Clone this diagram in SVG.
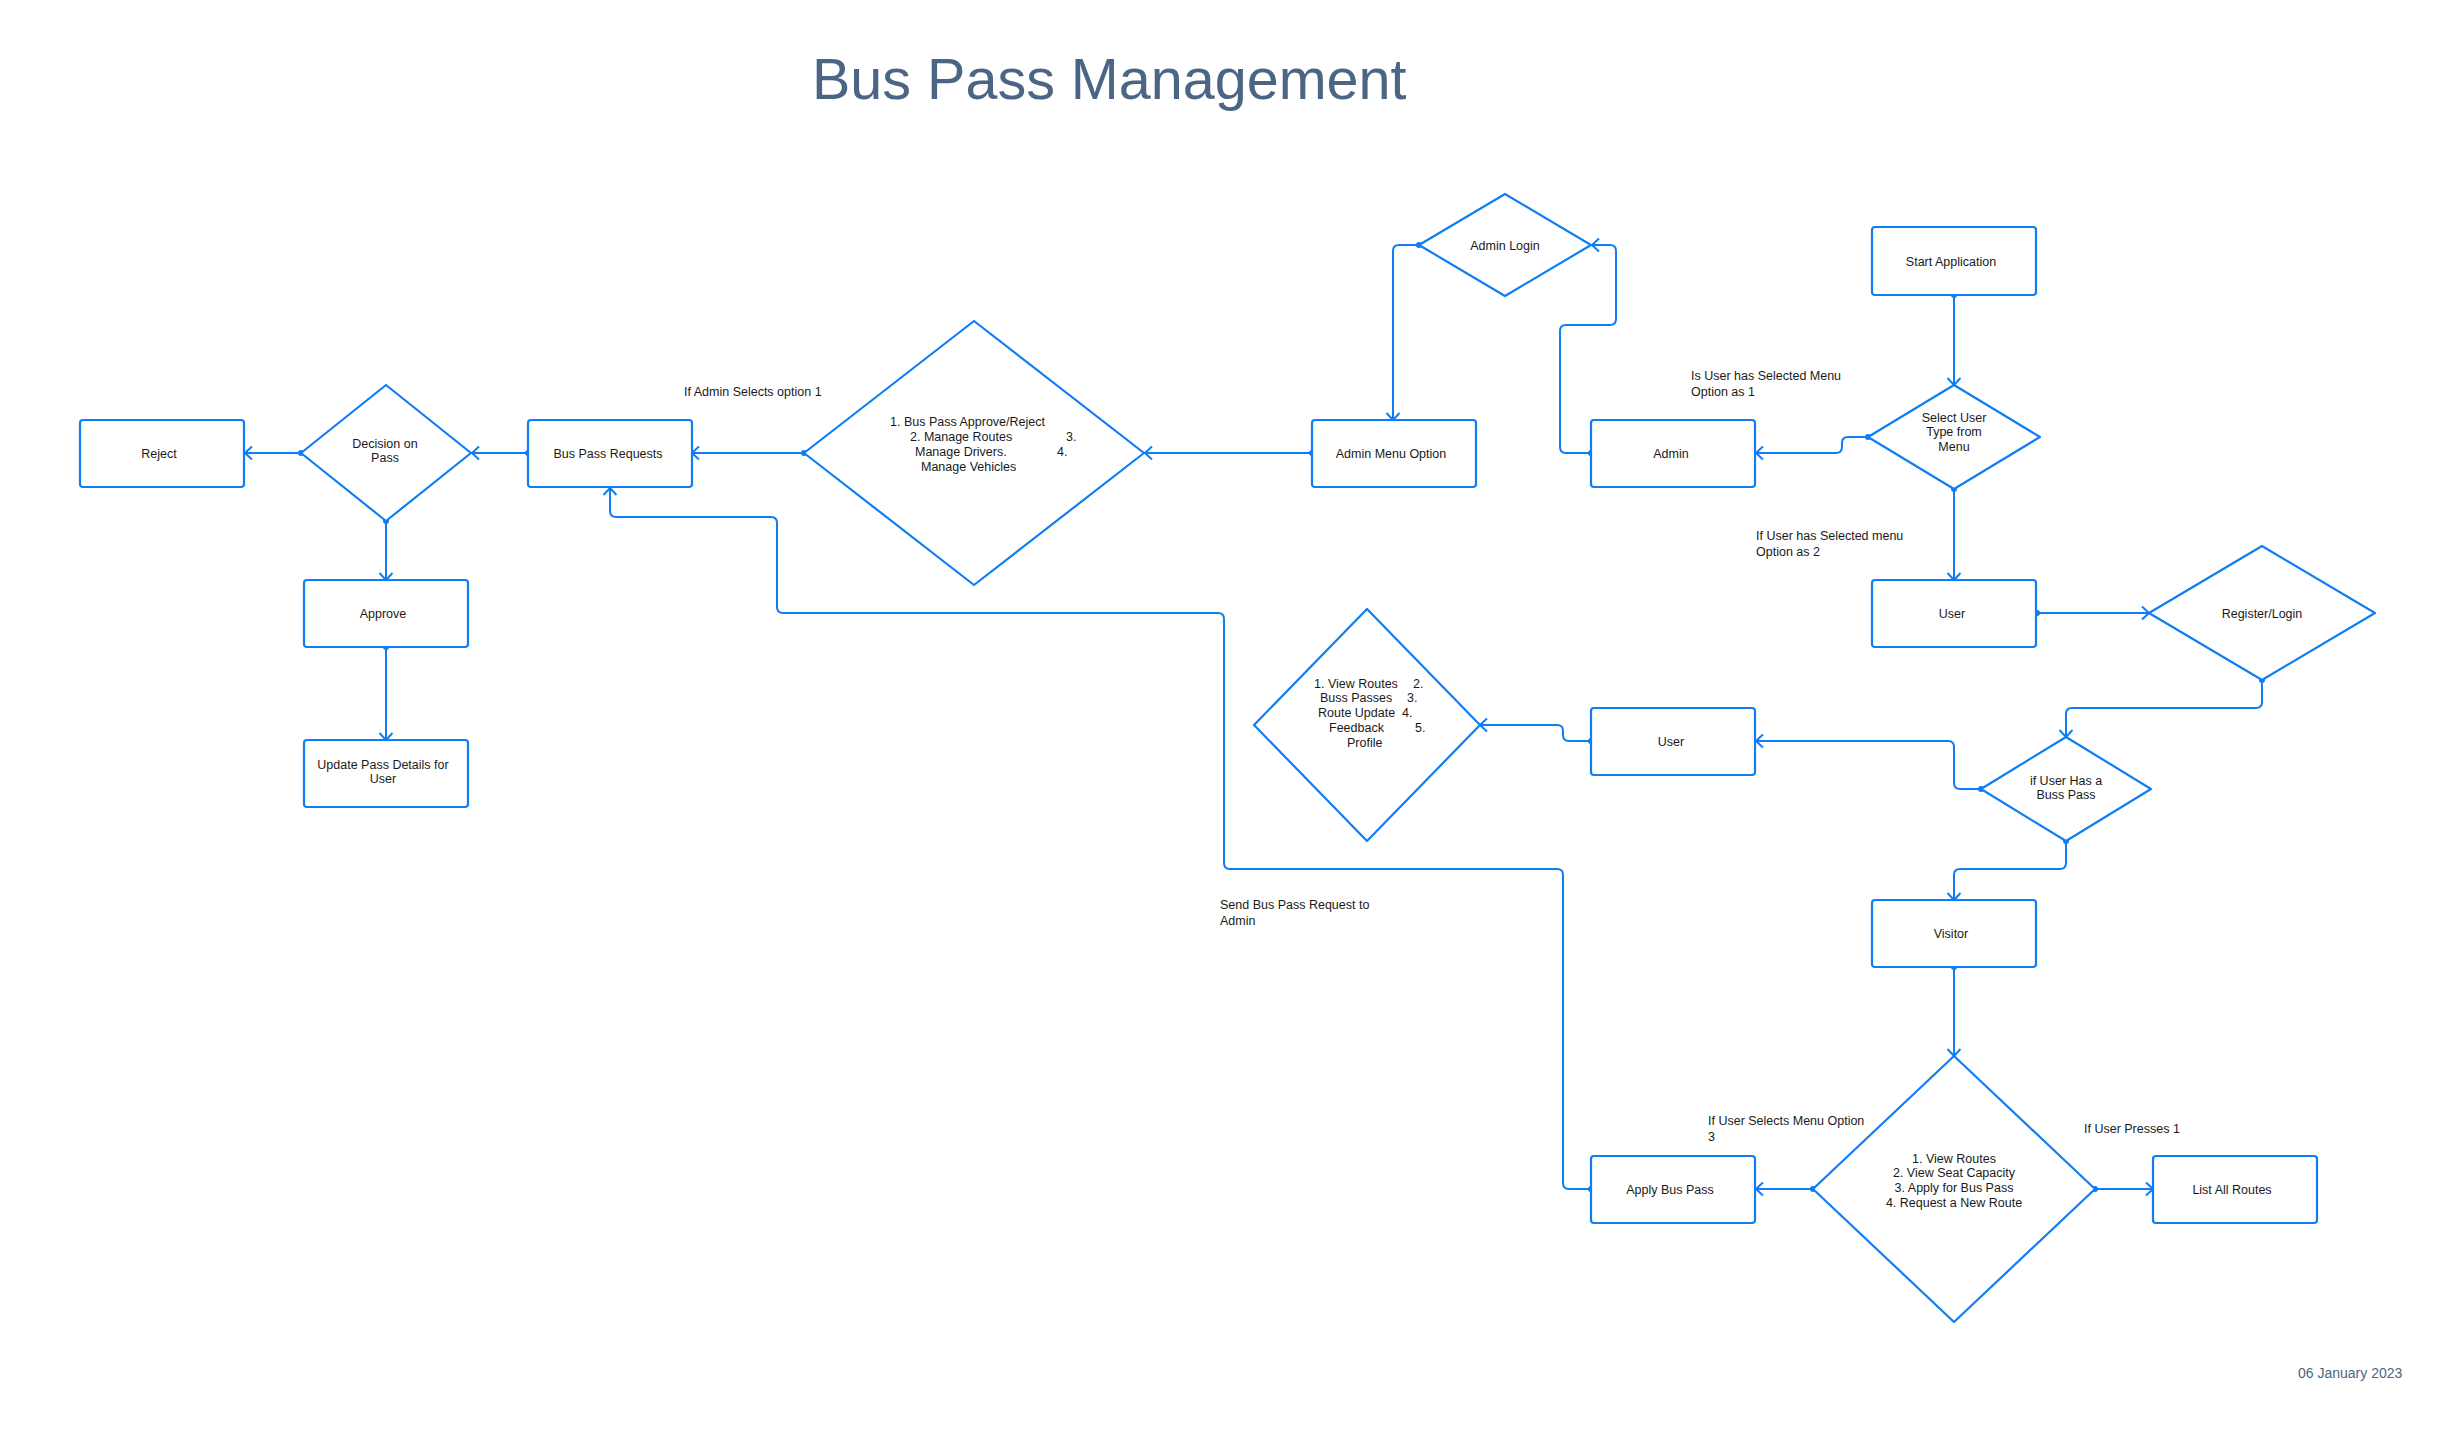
<svg xmlns="http://www.w3.org/2000/svg" width="2452" height="1449" viewBox="0 0 2452 1449">
<style>
.shape{fill:#ffffff;stroke:#0f7df5;stroke-width:2.2;stroke-linejoin:round}
.conn{fill:none;stroke:#0f7df5;stroke-width:2;marker-start:url(#dot);marker-end:url(#arr)}
text{font-family:"Liberation Sans",Arial,sans-serif;fill:#1a1a1a;font-size:12.5px}
.c{text-anchor:middle}
.title{font-size:57.5px;fill:#4c6584}
.date{font-size:14px;fill:#4c6584}
</style>
<defs>
<marker id="arr" markerUnits="userSpaceOnUse" markerWidth="20" markerHeight="20" viewBox="-10 -10 20 20" refX="0" refY="0" orient="auto">
<path d="M-7,-6.5 L0,0 L-7,6.5" fill="none" stroke="#0f7df5" stroke-width="2"/>
</marker>
<marker id="dot" markerUnits="userSpaceOnUse" markerWidth="10" markerHeight="10" viewBox="-5 -5 10 10" refX="0" refY="0" orient="auto">
<circle cx="0" cy="0" r="3" fill="#0f7df5"/>
</marker>
</defs>
<rect width="2452" height="1449" fill="#ffffff"/>
<text class="title" x="812" y="99">Bus Pass Management</text>
<text class="date" x="2298" y="1378">06 January 2023</text>

<g id="connectors">
<path class="conn" d="M1954,295 V385"/>
<path class="conn" d="M1868,437 H1848 Q1842,437 1842,443 V447 Q1842,453 1836,453 H1756"/>
<path class="conn" d="M1591,453 H1566 Q1560,453 1560,447 V331 Q1560,325 1566,325 H1610 Q1616,325 1616,319 V251 Q1616,245 1610,245 H1592"/>
<path class="conn" d="M1419,245 H1399 Q1393,245 1393,251 V420"/>
<path class="conn" d="M1312,453 H1145"/>
<path class="conn" d="M804,453 H692"/>
<path class="conn" d="M528,453 H472"/>
<path class="conn" d="M301,453 H245"/>
<path class="conn" d="M386,521 V580"/>
<path class="conn" d="M386,647 V740"/>
<path class="conn" d="M1591,1189 H1569 Q1563,1189 1563,1183 V875 Q1563,869 1557,869 H1230 Q1224,869 1224,863 V619 Q1224,613 1218,613 H783 Q777,613 777,607 V523 Q777,517 771,517 H616 Q610,517 610,511 V488"/>
<path class="conn" d="M1954,489 V580"/>
<path class="conn" d="M2037,613 H2149"/>
<path class="conn" d="M2262,680 V702 Q2262,708 2256,708 H2072 Q2066,708 2066,714 V737"/>
<path class="conn" d="M1981,789 H1960 Q1954,789 1954,783 V747 Q1954,741 1948,741 H1756"/>
<path class="conn" d="M1591,741 H1569 Q1563,741 1563,735 V731 Q1563,725 1557,725 H1480"/>
<path class="conn" d="M2066,841 V863 Q2066,869 2060,869 H1960 Q1954,869 1954,875 V900"/>
<path class="conn" d="M1954,967 V1056"/>
<path class="conn" d="M1813,1189 H1756"/>
<path class="conn" d="M2095,1189 H2153"/>
</g>

<g id="labels">
<text x="684" y="396">If Admin Selects option 1</text>
<text x="1691" y="380">Is User has Selected Menu</text>
<text x="1691" y="396">Option as 1</text>
<text x="1756" y="540">If User has Selected menu</text>
<text x="1756" y="556">Option as 2</text>
<text x="1220" y="908.5">Send Bus Pass Request to</text>
<text x="1220" y="924.5">Admin</text>
<text x="1708" y="1124.5">If User Selects Menu Option</text>
<text x="1708" y="1140.5">3</text>
<text x="2084" y="1132.5">If User Presses 1</text>
</g>

<g id="start-application">
<rect class="shape" x="1872" y="227" width="164" height="68" rx="3"/>
<text class="c" x="1951" y="265.5">Start Application</text>
</g>
<g id="select-user-type">
<polygon class="shape" points="1954,385 2040,437 1954,489 1868,437"/>
<text class="c" x="1954" y="421.5">Select User</text>
<text class="c" x="1954" y="435.5">Type from</text>
<text class="c" x="1954" y="450.5">Menu</text>
</g>
<g id="admin">
<rect class="shape" x="1591" y="420" width="164" height="67" rx="3"/>
<text class="c" x="1671" y="457.5">Admin</text>
</g>
<g id="admin-login">
<polygon class="shape" points="1505,194 1591,245 1505,296 1419,245"/>
<text class="c" x="1505" y="249.5">Admin Login</text>
</g>
<g id="admin-menu-option">
<rect class="shape" x="1312" y="420" width="164" height="67" rx="3"/>
<text class="c" x="1391" y="457.5">Admin Menu Option</text>
</g>
<g id="admin-menu">
<polygon class="shape" points="974,321 1144,453 974,585 804,453"/>
<text x="890" y="426">1. Bus Pass Approve/Reject</text>
<text x="910" y="440.5">2. Manage Routes</text>
<text x="1066" y="440.5">3.</text>
<text x="915" y="455.5">Manage Drivers.</text>
<text x="1057" y="455.5">4.</text>
<text x="921" y="470.5">Manage Vehicles</text>
</g>
<g id="bus-pass-requests">
<rect class="shape" x="528" y="420" width="164" height="67" rx="3"/>
<text class="c" x="608" y="457.5">Bus Pass Requests</text>
</g>
<g id="decision-on-pass">
<polygon class="shape" points="386,385 471,453 386,521 301,453"/>
<text class="c" x="385" y="448">Decision on</text>
<text class="c" x="385" y="462">Pass</text>
</g>
<g id="reject">
<rect class="shape" x="80" y="420" width="164" height="67" rx="3"/>
<text class="c" x="159" y="457.5">Reject</text>
</g>
<g id="approve">
<rect class="shape" x="304" y="580" width="164" height="67" rx="3"/>
<text class="c" x="383" y="617.5">Approve</text>
</g>
<g id="update-pass-details">
<rect class="shape" x="304" y="740" width="164" height="67" rx="3"/>
<text class="c" x="383" y="768.5">Update Pass Details for</text>
<text class="c" x="383" y="782.5">User</text>
</g>
<g id="user-top">
<rect class="shape" x="1872" y="580" width="164" height="67" rx="3"/>
<text class="c" x="1952" y="617.5">User</text>
</g>
<g id="register-login">
<polygon class="shape" points="2262,546 2375,613 2262,680 2149,613"/>
<text class="c" x="2262" y="617.5">Register/Login</text>
</g>
<g id="if-user-has-pass">
<polygon class="shape" points="2066,737 2151,789 2066,841 1981,789"/>
<text class="c" x="2066" y="784.5">if User Has a</text>
<text class="c" x="2066" y="798.5">Buss Pass</text>
</g>
<g id="user-pass-holder">
<rect class="shape" x="1591" y="708" width="164" height="67" rx="3"/>
<text class="c" x="1671" y="745.5">User</text>
</g>
<g id="user-menu">
<polygon class="shape" points="1367,609 1480,725 1367,841 1254,725"/>
<text x="1314" y="687.5">1. View Routes</text>
<text x="1413" y="687.5">2.</text>
<text x="1320" y="701.5">Buss Passes</text>
<text x="1407" y="701.5">3.</text>
<text x="1318" y="716.5">Route Update</text>
<text x="1402" y="716.5">4.</text>
<text x="1329" y="731.5">Feedback</text>
<text x="1415" y="731.5">5.</text>
<text x="1347" y="746.5">Profile</text>
</g>
<g id="visitor">
<rect class="shape" x="1872" y="900" width="164" height="67" rx="3"/>
<text class="c" x="1951" y="937.5">Visitor</text>
</g>
<g id="visitor-menu">
<polygon class="shape" points="1954,1056 2095,1189 1954,1322 1813,1189"/>
<text class="c" x="1954" y="1162.5">1. View Routes</text>
<text class="c" x="1954" y="1176.5">2. View Seat Capacity</text>
<text class="c" x="1954" y="1191.5">3. Apply for Bus Pass</text>
<text class="c" x="1954" y="1206.5">4. Request a New Route</text>
</g>
<g id="apply-bus-pass">
<rect class="shape" x="1591" y="1156" width="164" height="67" rx="3"/>
<text class="c" x="1670" y="1193.5">Apply Bus Pass</text>
</g>
<g id="list-all-routes">
<rect class="shape" x="2153" y="1156" width="164" height="67" rx="3"/>
<text class="c" x="2232" y="1193.5">List All Routes</text>
</g>
</svg>
